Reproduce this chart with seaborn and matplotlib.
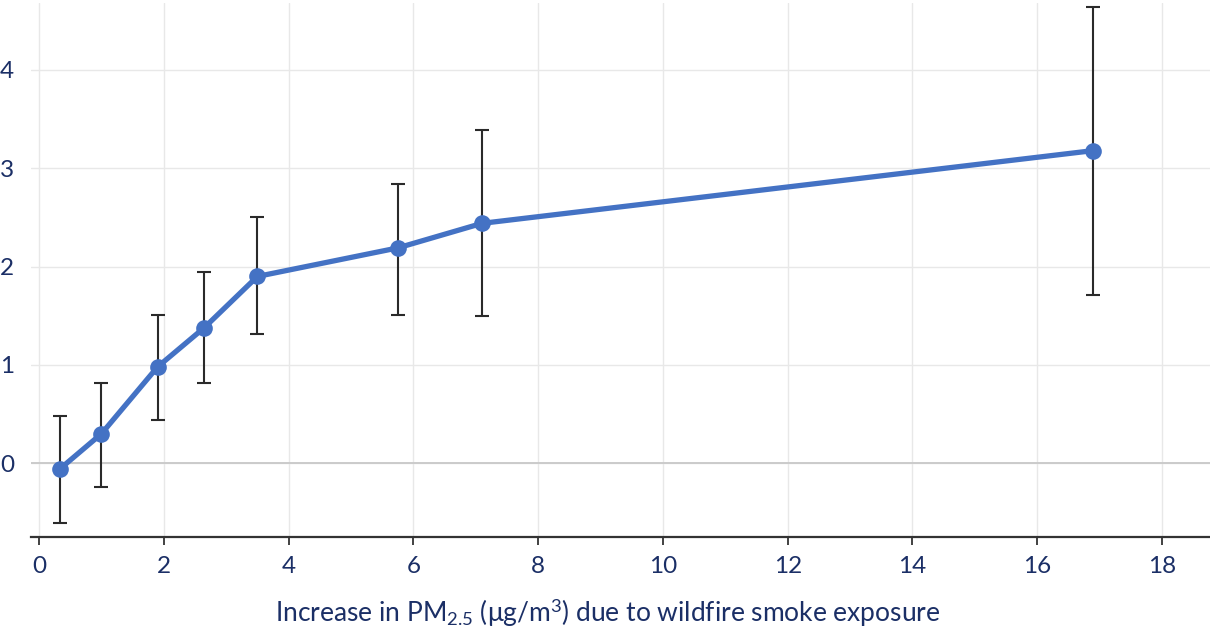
import matplotlib
matplotlib.use("Agg")
import matplotlib.pyplot as plt
import seaborn as sns
import pandas as pd
import numpy as np

# Data
pm25_increase = [0.33, 1.0, 1.9, 2.65, 3.5, 5.75, 7.1, 16.9]
effect = [-0.06, 0.30, 0.98, 1.38, 1.90, 2.19, 2.44, 3.18]
ci_low = [-0.61, -0.24, 0.44, 0.82, 1.31, 1.51, 1.50, 1.71]
ci_high = [0.48, 0.82, 1.51, 1.94, 2.50, 2.84, 3.39, 4.64]
x_ticks = [0, 2, 4, 6, 8, 10, 12, 14, 16, 18]
y_ticks = [0, 1, 2, 3, 4]

df = pd.DataFrame({"x": pm25_increase, "y": effect, "lo": ci_low, "hi": ci_high})

sns.set_theme(style="white")
plt.rcParams['font.family'] = ['Lato', 'DejaVu Sans']
plt.rcParams['mathtext.fontset'] = 'custom'
plt.rcParams['mathtext.rm'] = 'Lato'
plt.rcParams['mathtext.it'] = 'Lato:italic'

navy = "#1b2f66"
fig = plt.figure(figsize=(12.1, 6.28), dpi=100)
ax = fig.add_axes([0.0256, 0.145, 0.9744, 0.85])

ax.set_xlim(-0.13, 18.77)
ax.set_ylim(-0.75, 4.68)

# grid
for t in x_ticks:
    ax.axvline(t, color="#e8e8e8", lw=1, zorder=0)
for t in y_ticks:
    ax.axhline(t, color="#e8e8e8", lw=1, zorder=0)
ax.axhline(0, color="#c8c8c8", lw=1.3, zorder=1)

ax.errorbar(df["x"], df["y"], yerr=[df["y"] - df["lo"], df["hi"] - df["y"]],
            fmt="none", ecolor="#2a2a2a", elinewidth=1.5, capsize=5, capthick=1.5, zorder=2)
sns.lineplot(data=df, x="x", y="y", ax=ax, color="#4472C4", linewidth=3.8,
             marker="o", markersize=12, markeredgewidth=0, zorder=3)

ax.set_xticks(x_ticks)
ax.set_yticks(y_ticks)
ax.tick_params(axis="x", which="both", bottom=True, length=6, width=1.3, color="#333333",
               labelsize=17.5, labelcolor=navy, pad=8)
ax.tick_params(axis="y", left=False, labelsize=17.5, labelcolor=navy, pad=6)

for s in ["top", "right", "left"]:
    ax.spines[s].set_visible(False)
ax.spines["bottom"].set_color("#333333")
ax.spines["bottom"].set_linewidth(1.6)

ax.set_xlabel("Increase in PM$_{2.5}$ (μg/m$^3$) due to wildfire smoke exposure",
              fontsize=19, color=navy)
ax.xaxis.set_label_coords(0.489, -0.112)
ax.set_ylabel("")

fig.savefig("out.png", dpi=100)
